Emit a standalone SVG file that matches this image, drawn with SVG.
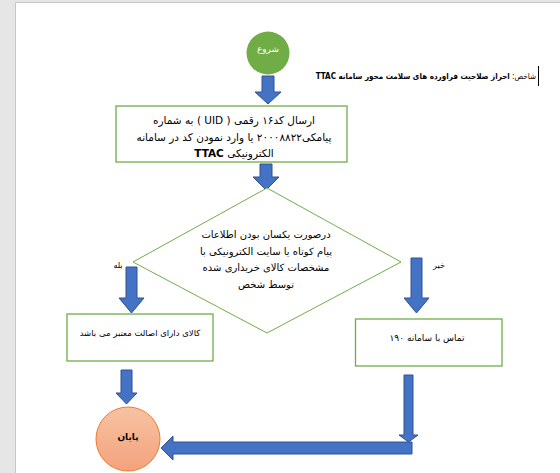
<svg xmlns="http://www.w3.org/2000/svg" width="560" height="473" viewBox="0 0 560 473">
<defs>
<linearGradient id="orange" x1="0" y1="0" x2="0" y2="1">
<stop offset="0" stop-color="#f7c3a3"/>
<stop offset="1" stop-color="#f4a27c"/>
</linearGradient>
<style>
.box{fill:#ffffff;stroke:#70ad47;stroke-width:1.3}
.dia{fill:#ffffff;stroke:#70ad47;stroke-width:1}
.arr{fill:#4472c4;stroke:#2f528f;stroke-width:1}
.t{font-family:"DejaVu Sans",sans-serif;font-size:9px;fill:#000000;text-anchor:middle;direction:rtl}
.m{font-size:10px}
.r{font-size:10.5px}
.b{font-weight:bold}
</style>
</defs>
<rect x="0" y="0" width="560" height="473" fill="#e6e6e6"/>
<rect x="15.5" y="2.5" width="550" height="475" fill="#ffffff" stroke="#c6c6c6" stroke-width="1"/>

<g id="title">
<text x="536" y="79" class="t" style="text-anchor:start;font-family:'DejaVu Sans Condensed','DejaVu Sans',sans-serif;font-size:8px">شاخص: <tspan class="b">احراز صلاحیت فراورده های سلامت محور سامانه TTAC</tspan></text>
<line x1="538.5" y1="66" x2="538.5" y2="86" stroke="#000000" stroke-width="1"/>
</g>

<g id="connectors">
<polygon class="arr" points="262,76 274,76 274,92 281,92 268,104 255,92 262,92"/>
<polygon class="arr" points="260,164 272,164 272,177 279,177 266,190 253,177 260,177"/>
<polygon class="arr" points="126,267 137,267 137,298 144,298 131.5,313 119,298 126,298"/>
<polygon class="arr" points="411,258 422,258 422,298 429,298 416.5,313 404,298 411,298"/>
<polygon class="arr" points="121,370 132,370 132,393 137,393 126.5,404 116,393 121,393"/>
<polygon class="arr" points="412,442 412,454 173,454 173,460 161,448 173,436 173,442"/>
<polygon class="arr" points="404,375 413,375 413,435 418,435 408.5,442 399,435 404,435"/>
</g>

<g id="start">
<circle cx="268" cy="53" r="21.5" fill="#70ad47"/>
<text x="268" y="52" class="t" style="fill:#ffffff">شروع</text>
</g>

<g id="send">
<rect class="box" x="116" y="106" width="231" height="56"/>
<text x="234" y="124" class="t r">ارسال کد۱۶ رقمی ( UID ) به شماره</text>
<text x="234" y="141" class="t r">پیامکی۲۰۰۰۸۸۲۲ یا وارد نمودن کد در سامانه</text>
<text x="234" y="157" class="t r">الکترونیکی <tspan class="b">TTAC</tspan></text>
</g>

<g id="decision">
<polygon class="dia" points="267,188 401,262 267,333 133,262"/>
<text x="266" y="238" class="t m">درصورت یکسان بودن  اطلاعات</text>
<text x="266" y="255" class="t m">پیام کوتاه یا سایت الکترونیکی با</text>
<text x="266" y="271" class="t m">مشخصات  کالای خریداری شده</text>
<text x="266" y="288" class="t m">توسط شخص</text>
<text x="118" y="268" class="t" style="font-size:8px">بله</text>
<text x="439" y="268" class="t" style="font-size:8px">خیر</text>
</g>

<g id="valid">
<rect class="box" x="67" y="314" width="146" height="47"/>
<text x="140" y="336" class="t" style="font-size:8.5px">کالای  دارای اصالت معتبر می باشد</text>
</g>

<g id="call">
<rect class="box" x="355.5" y="319" width="146.5" height="47"/>
<text x="427" y="341" class="t">تماس با سامانه ۱۹۰</text>
</g>

<g id="end">
<circle cx="128" cy="439" r="32" fill="url(#orange)" stroke="#ed7d31" stroke-width="1"/>
<text x="128" y="440" class="t b">پایان</text>
</g>
</svg>
